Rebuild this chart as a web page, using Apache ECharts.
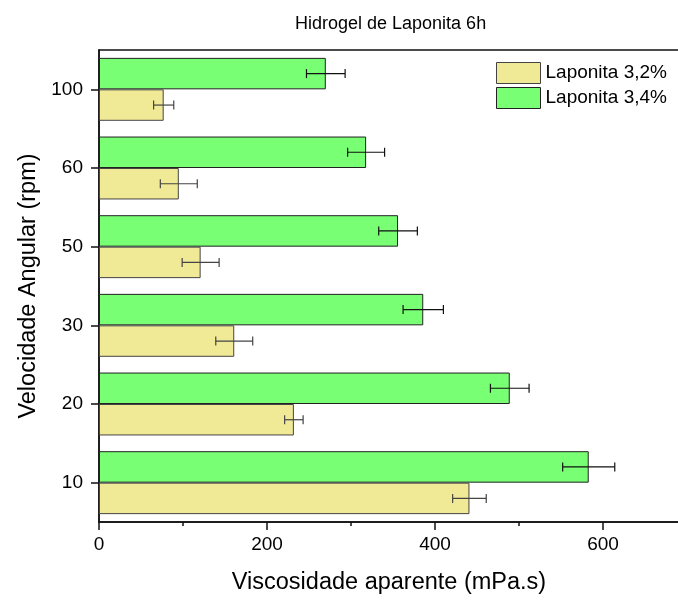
<!DOCTYPE html>
<html>
<head>
<meta charset="utf-8">
<script src="https://cdn.jsdelivr.net/npm/echarts@6/dist/echarts.min.js"></script>
<style>
  html, body { margin: 0; padding: 0; background: #fff; }
  #chart { width: 678px; height: 600px; }
</style>
</head>
<body>
<div id="chart"></div>
<script>
// rpm categories, bottom to top
const categories = ['10', '20', '30', '50', '60', '100'];
// viscosidade aparente (mPa.s)
const lap32 = [441, 232, 161, 121, 95, 77];
const lap32Err = [20, 11, 22, 22, 22, 12];
const lap34 = [583, 489, 386, 356, 318, 270];
const lap34Err = [31, 23, 24, 23, 22, 23];
const xTicks = [0, 200, 400, 600];

const font = 'Liberation Sans, Arial, sans-serif';

// error bar renderer: side = +1 below the category center, -1 above
let errorBar = (values, errs, side, color) => (params, api) => {
  let i = params.dataIndex;
  let band = api.size([0, 1])[1];
  let off = side * band * 0.2;
  let lo = api.coord([values[i] - errs[i], i]);
  let hi = api.coord([values[i] + errs[i], i]);
  let y = lo[1] + off;
  let cap = 4.5;
  let style = { stroke: color, lineWidth: 1.2 };
  return {
    type: 'group',
    children: [
      { type: 'line', shape: { x1: lo[0], y1: y, x2: hi[0], y2: y }, style },
      { type: 'line', shape: { x1: lo[0], y1: y - cap, x2: lo[0], y2: y + cap }, style },
      { type: 'line', shape: { x1: hi[0], y1: y - cap, x2: hi[0], y2: y + cap }, style }
    ]
  };
};

let chart = echarts.init(document.getElementById('chart'));

let option = {
  backgroundColor: '#fff',
  animation: false,
  textStyle: { fontFamily: font, color: '#000' },
  title: {
    text: 'Hidrogel de Laponita 6h',
    left: 290,
    top: 10,
    textStyle: { fontFamily: font, fontSize: 18, fontWeight: 'normal', color: '#000' }
  },
  legend: {
    orient: 'vertical',
    left: 496,
    top: 62,
    padding: 0,
    itemWidth: 44,
    itemHeight: 21,
    itemGap: 3,
    icon: 'rect',
    itemStyle: { borderWidth: 1 },
    textStyle: { fontFamily: font, fontSize: 19, color: '#000' },
    data: ['Laponita 3,2%', 'Laponita 3,4%']
  },
  grid: {
    left: 99,
    top: 50,
    width: 588,
    height: 472,
    outerBoundsMode: 'none',
    show: true,
    borderColor: '#111',
    borderWidth: 1.5
  },
  xAxis: [
    {
      type: 'value',
      position: 'bottom',
      min: 0,
      max: 700,
      interval: 200,
      name: 'Viscosidade aparente (mPa.s)',
      nameLocation: 'middle',
      nameGap: 49,
      nameTextStyle: { fontFamily: font, fontSize: 23.5, color: '#000', padding: [0, 8, 0, 0] },
      axisLine: { show: true, lineStyle: { color: '#111', width: 1.5 } },
      axisTick: { show: true, inside: false, length: 8, lineStyle: { color: '#111', width: 1.5 } },
      axisLabel: {
        fontFamily: font, fontSize: 19, color: '#000', margin: 13,
        showMaxLabel: false,
        formatter: v => xTicks.includes(v) ? String(v) : ''
      },
      splitLine: { show: false }
    },
    {
      type: 'value',
      position: 'bottom',
      min: 0,
      max: 700,
      interval: 100,
      axisLine: { show: false },
      axisTick: { show: true, inside: false, length: 4, lineStyle: { color: '#111', width: 1.5 } },
      axisLabel: { show: false },
      splitLine: { show: false }
    }
  ],
  yAxis: {
    type: 'category',
    data: categories,
    name: 'Velocidade Angular (rpm)',
    nameLocation: 'middle',
    nameGap: 58,
    nameTextStyle: { fontFamily: font, fontSize: 23.5, color: '#000' },
    axisLine: { show: true, lineStyle: { color: '#111', width: 1.5 } },
    axisTick: { show: true, alignWithLabel: true, length: 8, lineStyle: { color: '#111', width: 1.5 } },
    axisLabel: { fontFamily: font, fontSize: 19, color: '#000', margin: 16 },
    splitLine: { show: false }
  },
  series: [
    {
      name: 'Laponita 3,4%',
      type: 'bar',
      data: lap34,
      barGap: '0%',
      barCategoryGap: '20%',
      itemStyle: { color: '#78ff74', borderColor: '#222', borderWidth: 1 }
    },
    {
      name: 'Laponita 3,2%',
      type: 'bar',
      data: lap32,
      barGap: '0%',
      barCategoryGap: '20%',
      itemStyle: { color: '#f0ea96', borderColor: '#444', borderWidth: 1 }
    },
    {
      type: 'custom',
      data: lap32.map((v, i) => [v, i]),
      renderItem: errorBar(lap32, lap32Err, 1, '#444'),
      z: 10
    },
    {
      type: 'custom',
      data: lap34.map((v, i) => [v, i]),
      renderItem: errorBar(lap34, lap34Err, -1, '#111'),
      z: 10
    }
  ]
};

chart.setOption(option);
</script>
</body>
</html>
